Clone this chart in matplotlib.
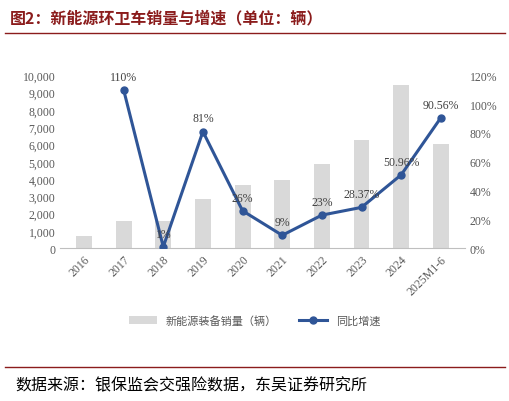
import matplotlib.pyplot as plt
from matplotlib.ticker import FuncFormatter, PercentFormatter

plt.rcParams['font.family'] = ['Noto Sans CJK SC', 'DejaVu Sans']

years = ["2016", "2017", "2018", "2019", "2020", "2021", "2022", "2023", "2024", "2025M1-6"]
sales = [700, 1550, 1550, 2850, 3650, 3950, 4850, 6250, 9450, 6050]
growth = [None, 110, 1, 81, 26, 9, 23, 28.37, 50.96, 90.56]
growth_labels = ["", "110%", "1%", "81%", "26%", "9%", "23%", "28.37%", "50.96%", "90.56%"]

fig = plt.figure(figsize=(5.10, 4.02), dpi=100)
ax = fig.add_axes([0.118, 0.38, 0.793, 0.43])
x = range(len(years))
ax.bar(x, sales, width=0.4, color="#d9d9d9", label="新能源装备销量（辆）")
ax.set_ylim(0, 10000)
ax.set_yticks(range(0, 10001, 1000))
ax.yaxis.set_major_formatter(FuncFormatter(lambda v, p: f"{int(v):,}"))
ax.set_xticks(list(x))
ax.set_xticklabels(years, rotation=45, ha="right", rotation_mode="anchor", family="Liberation Serif")
ax.set_xlim(-0.6, len(years) - 0.4)
for s in ["top", "right", "left"]:
    ax.spines[s].set_visible(False)
ax.spines["bottom"].set_color("#bfbfbf")
ax.tick_params(length=0, labelsize=8.5, colors="#595959")
for lbl in ax.get_yticklabels():
    lbl.set_family("Liberation Serif")

ax2 = ax.twinx()
xs = list(x)[1:]
ax2.plot(xs, growth[1:], color="#2f5597", lw=2.2, marker="o", ms=5, label="同比增速")
ax2.set_ylim(0, 120)
ax2.set_yticks(range(0, 121, 20))
ax2.yaxis.set_major_formatter(PercentFormatter(decimals=0))
for s in ["top", "right", "left", "bottom"]:
    ax2.spines[s].set_visible(False)
ax2.tick_params(length=0, labelsize=8.5, colors="#595959")
for lbl in ax2.get_yticklabels():
    lbl.set_family("Liberation Serif")
for xi, g, t in zip(xs, growth[1:], growth_labels[1:]):
    ax2.text(xi, g + 5, t, ha="center", va="bottom", fontsize=8.5, color="#404040", family="Liberation Serif")

h1, l1 = ax.get_legend_handles_labels()
h2, l2 = ax2.get_legend_handles_labels()
fig.legend(h1 + h2, l1 + l2, loc="center", bbox_to_anchor=(0.5, 0.2), ncol=2, frameon=False,
           fontsize=8, labelcolor="#595959", handlelength=2.5)

fig.text(0.02, 0.955, "图2：新能源环卫车销量与增速（单位：辆）", fontsize=11.5, fontweight="bold",
         color="#8b1c1c", va="center")
fig.add_artist(plt.Line2D([0.01, 0.99], [0.915, 0.915], color="#8b1c1c", lw=1))
fig.add_artist(plt.Line2D([0.01, 0.99], [0.085, 0.085], color="#8b1c1c", lw=1))
fig.text(0.03, 0.04, "数据来源：银保监会交强险数据，东吴证券研究所", fontsize=11.5, va="center", color="#000000")

fig.savefig("out.png", dpi=100)
